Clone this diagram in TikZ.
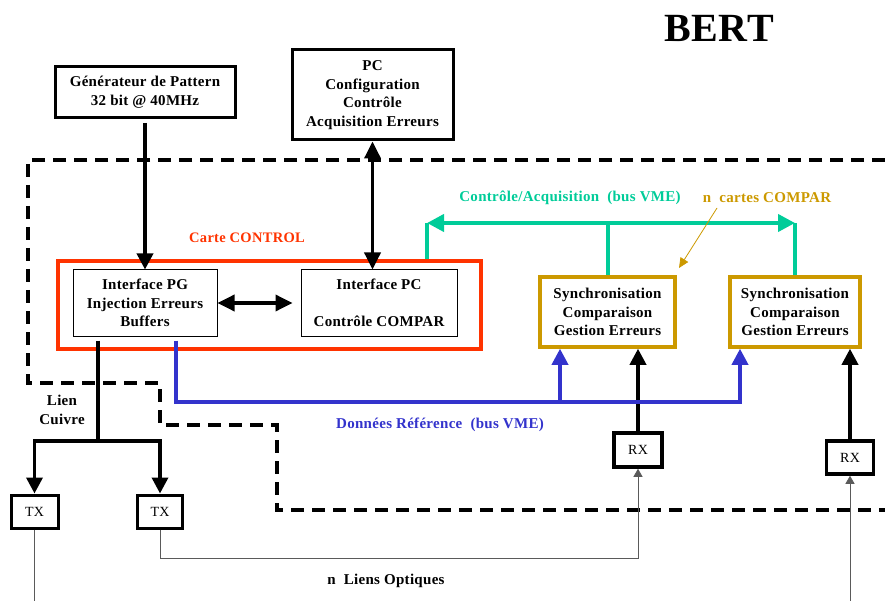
\documentclass[tikz,border=0pt]{standalone}
\usepackage{fontspec}
\setmainfont{Liberation Serif}[LetterSpace=2]
\usetikzlibrary{arrows.meta,calc}
\definecolor{cred}{RGB}{255,51,0}
\definecolor{cgreen}{RGB}{0,204,153}
\definecolor{cgold}{RGB}{204,153,0}
\definecolor{cblue}{RGB}{51,51,204}
\definecolor{cgray}{RGB}{90,90,90}
\tikzset{
  lbl/.style={font=\fontsize{15}{18.5}\selectfont\bfseries, align=center, inner sep=0pt},
  thickbox/.style={draw=black, line width=3pt, lbl, minimum width=#1},
  thinbox/.style={draw=black, line width=1pt, lbl},
  goldbox/.style={draw=cgold, line width=3.5pt, lbl, minimum width=#1, minimum height=70pt},
  xbox/.style={draw=black, line width=3.5pt, font=\fontsize{14}{16}\selectfont, inner sep=0pt},
  bigarrow/.style={line width=3.5pt, -{Triangle[length=16pt,width=16pt]}},
  dblarrow/.style={line width=3.5pt, {Triangle[length=17pt,width=16pt]}-{Triangle[length=17pt,width=16pt]}},
  thinarrow/.style={draw=cgray, line width=0.8pt, -{Triangle[length=8pt,width=9pt]}},
  thinline/.style={draw=cgray, line width=0.8pt},
  frame/.style={line width=3.2pt, dash pattern=on 13pt off 8pt},
}
\begin{document}
\begin{tikzpicture}[x=1pt,y=-1pt]
\useasboundingbox (0,0) rectangle (885,601);

% title
\node[font=\fontsize{40}{44}\selectfont\bfseries, inner sep=0pt] (title) at (719,28) {BERT};

% dashed frame
\draw[frame] (885,160) -- (28,160) -- (28,383) -- (160,383) -- (160,425) -- (277,425) -- (277,510) -- (885,510);

% top boxes
\node[thickbox=180pt, minimum height=51pt] (gen) at (145,92) {Générateur de Pattern\\32 bit @ 40MHz};
\node[thickbox=161pt, minimum height=90pt] (pc) at (372.5,95) {PC\\Configuration\\Contrôle\\Acquisition Erreurs};

% carte control
\node[draw=cred, line width=3.5pt, minimum width=423pt, minimum height=88pt] (red) at (269.5,305) {};
\node[lbl, text=cred, font=\fontsize{14.5}{17}\selectfont\bfseries] (carte) at (247,238) {Carte CONTROL};
\node[thinbox, minimum width=144pt, minimum height=66pt] (ipg) at (145,303) {Interface PG\\Injection Erreurs\\Buffers};
\node[thinbox, minimum width=156pt, minimum height=66pt] (ipc) at (379,303) {Interface PC\\[18.5pt]Contrôle COMPAR};

% compar boxes
\node[goldbox=135pt] (sync1) at (607.5,312) {Synchronisation\\Comparaison\\Gestion Erreurs};
\node[goldbox=130pt] (sync2) at (795,312) {Synchronisation\\Comparaison\\Gestion Erreurs};

% RX / TX
\node[xbox, minimum width=48pt, minimum height=34pt] (rx1) at (638,450) {RX};
\node[xbox, minimum width=47pt, minimum height=33pt] (rx2) at (850,457.5) {RX};
\node[xbox, line width=3pt, minimum width=47pt, minimum height=33pt] (tx1) at (34.5,511.5) {TX};
\node[xbox, line width=3pt, minimum width=45pt, minimum height=33pt] (tx2) at (160,511.5) {TX};

% labels
\node[lbl, text=cgreen] (lgreen) at (570,198) {Contrôle/Acquisition~~(bus VME)};
\node[lbl, text=cgold] (lgold) at (767,198) {n~~cartes COMPAR};
\node[lbl, text=cblue] (lblue) at (440,425) {Données Référence~~(bus VME)};
\node[lbl] (lcu) at (62,410) {Lien\\Cuivre};
\node[lbl] (lopt) at (386,581) {n~~Liens Optiques};

% black arrows
\draw[bigarrow] ([yshift=-4pt]gen.south) -- (ipg.north);
\draw[dblarrow] (pc.south) -- (pc.south |- ipc.north);
\draw[dblarrow] (ipg.east) -- ([xshift=-8pt]ipc.west);
\draw[bigarrow] (rx1.north) -- (rx1.north |- sync1.south);
\draw[bigarrow] (rx2.north) -- (rx2.north |- sync2.south);

% green bus
\coordinate (g1) at (427,223);
\coordinate (g2) at (795,223);
\draw[cgreen, line width=4pt] (red.north -| g1) -- (g1);
\draw[cgreen, line width=4pt, {Triangle[length=17pt,width=17pt]}-{Triangle[length=17pt,width=17pt]}] (g1) -- (g2);
\draw[cgreen, line width=4pt] (sync1.north) -- (sync1.north |- g1);
\draw[cgreen, line width=4pt] (sync2.north) -- (sync2.north |- g1);

% gold pointer
\coordinate (nc1) at (717,208);
\coordinate (nc2) at (679,268);
\draw[cgold, line width=0.8pt, -{Triangle[length=10pt,width=9pt]}] (nc1) -- (nc2);

% blue bus
\coordinate (b1) at (176,402);
\coordinate (b2) at (740,402);
\coordinate (b3) at (560,402);
\draw[cblue, line width=3.5pt, -{Triangle[length=16pt,width=16pt]}] ([yshift=-4pt]ipg.south -| b1) -- (b1) -- (b2) -- (b2 |- sync2.south);
\draw[cblue, line width=3.5pt, -{Triangle[length=16pt,width=16pt]}] (b3) -- (b3 |- sync1.south);

% copper link
\coordinate (cu) at (98,441);
\draw[line width=3.5pt] ([yshift=-4pt]ipg.south -| cu) -- (cu);
\draw[bigarrow] (cu) -| (tx1.north);
\draw[bigarrow] (cu) -| (tx2.north);

% optical links
\coordinate (o1) at (638,558);
\coordinate (bot1) at (34.5,601);
\coordinate (bot2) at (850,601);
\draw[thinline] (tx1.south) -- (bot1);
\draw[thinarrow] (tx2.south) |- (o1) -- (rx1.south);
\draw[thinarrow] (bot2) -- (rx2.south);
\end{tikzpicture}
\end{document}
